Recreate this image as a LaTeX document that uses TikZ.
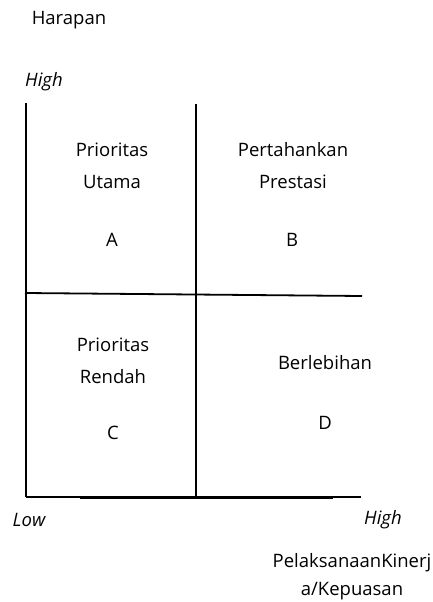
\documentclass[tikz,border=0pt]{standalone}
\usepackage{fontspec}
\setmainfont{Open Sans}
\begin{document}
\begin{tikzpicture}[x=1pt,y=-1pt,
  lbl/.style={inner sep=0pt,font=\fontsize{18.5}{32}\selectfont,align=center},
  axl/.style={lbl,font=\fontsize{18.5}{32}\selectfont\itshape},
  ln/.style={line width=1.8pt,black}]
\useasboundingbox (0,0) rectangle (433,602);
% frame coordinates
\coordinate (lt) at (26,103);
\coordinate (lb) at (26,497);
\coordinate (mt) at (196,104);
\coordinate (mb) at (196,497);
\coordinate (hl) at (25,293);
\coordinate (hr) at (362,296);
\coordinate (br) at (361,497);
\coordinate (b1) at (80,498);
\coordinate (b2) at (333,498);
\draw[ln] (lt) -- (lb);
\draw[ln] (mt) -- (mb);
\draw[ln] (hl) -- (hr);
\draw[line width=1.3pt] (lb) -- (br);
\draw[ln] (b1) -- (b2);
% labels
\node[lbl] (harapan) at (69,20) {Harapan};
\node[axl] (hightop) at (44,82) {High};
\node[lbl] (a1) at (112,166) {Prioritas\\Utama};
\node[lbl] (a) at (112,240) {A};
\node[lbl] (b1t) at (293,166) {Pertahankan\\Prestasi};
\node[lbl] (b) at (292,240) {B};
\node[lbl] (c1) at (113,361) {Prioritas\\Rendah};
\node[lbl] (c) at (113,433) {C};
\node[lbl] (d1) at (325,363) {Berlebihan};
\node[lbl] (d) at (325,423) {D};
\node[axl] (low) at (29,520) {Low};
\node[axl] (highr) at (383,520) {High};
\node[lbl,font=\fontsize{18.5}{28}\selectfont] (pk) at (352,577) {PelaksanaanKinerj\\a/Kepuasan};
\end{tikzpicture}
\end{document}
